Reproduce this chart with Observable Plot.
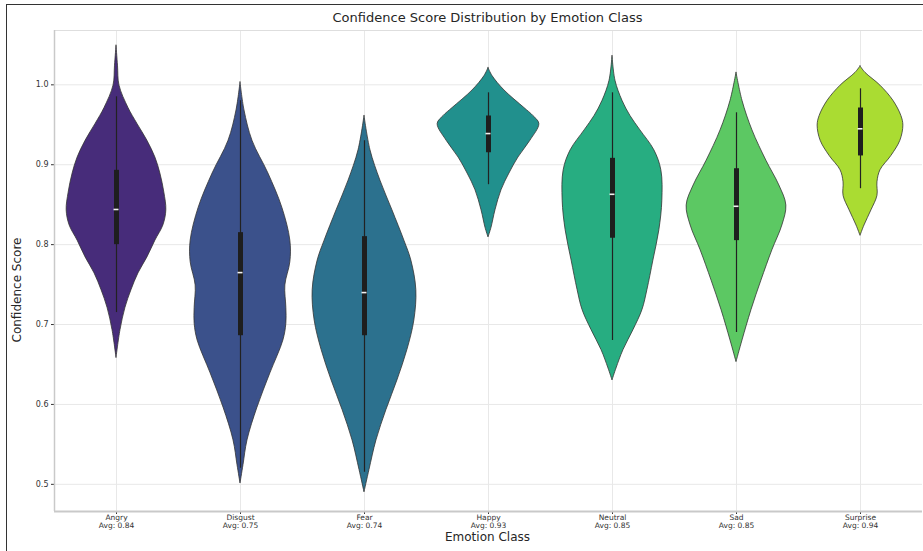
<!DOCTYPE html>
<html>
<head>
<meta charset="utf-8">
<script src="https://cdn.jsdelivr.net/npm/d3@7"></script>
<script src="https://cdn.jsdelivr.net/npm/@observablehq/plot@0.6"></script>
<style>
  html, body { margin: 0; padding: 0; background: #fff; overflow: hidden; }
  #fig { position: relative; width: 923px; height: 551px; font-family: "DejaVu Sans", sans-serif; color: #262626; background: #fff; }
  #edge { position: absolute; left: 6px; top: 4px; width: 1000px; height: 1000px; border-left: 1.5px solid #333; border-top: 1.5px solid #333; z-index: 5; pointer-events: none; }
  #title { position: absolute; left: 52px; width: 871px; top: 10px; text-align: center; font-size: 13px; }
  #ylabel { position: absolute; left: 17px; top: 290px; transform: translate(-50%, -50%) rotate(-90deg); font-size: 12px; white-space: nowrap; }
  #xlabel { position: absolute; left: 52px; width: 871px; top: 530px; text-align: center; font-size: 12px; }
  #chart { position: absolute; left: 0; top: 28px; }
</style>
</head>
<body>
<div id="fig">
  <div id="title">Confidence Score Distribution by Emotion Class</div>
  <div id="ylabel">Confidence Score</div>
  <div id="xlabel">Emotion Class</div>
  <div id="chart"></div>
  <div id="edge"></div>
</div>
<script>
// Emotion classes and their palette (viridis, 7 steps)
const emotions = ["Angry", "Disgust", "Fear", "Happy", "Neutral", "Sad", "Surprise"];
const colors = ["#472c7a", "#3b518b", "#2c718e", "#21908d", "#27ad81", "#5cc863", "#aadc32"];
const averages = [0.84, 0.75, 0.74, 0.93, 0.85, 0.85, 0.94];

// Kernel density outline for each class: score grid and relative density
const angryScore   = [1.049, 1.024, 0.999, 0.971, 0.951, 0.930, 0.909, 0.889, 0.865, 0.843, 0.824, 0.805, 0.784, 0.764, 0.743, 0.721, 0.693, 0.658];
const angryDens    = [0, 0.03, 0.06, 0.24, 0.42, 0.62, 0.78, 0.88, 0.96, 1.00, 0.94, 0.78, 0.62, 0.44, 0.30, 0.18, 0.08, 0];
const disgustScore = [1.003, 0.968, 0.930, 0.889, 0.846, 0.805, 0.778, 0.749, 0.721, 0.701, 0.680, 0.639, 0.596, 0.555, 0.524, 0.501];
const disgustDens  = [0, 0.08, 0.24, 0.56, 0.84, 1.00, 1.00, 0.90, 0.92, 0.92, 0.86, 0.60, 0.34, 0.14, 0.06, 0];
const fearScore    = [0.961, 0.918, 0.880, 0.843, 0.805, 0.780, 0.743, 0.705, 0.668, 0.630, 0.593, 0.555, 0.518, 0.490];
const fearDens     = [0, 0.12, 0.32, 0.56, 0.80, 0.94, 1.04, 1.00, 0.86, 0.66, 0.44, 0.24, 0.10, 0];
const happyScore   = [1.021, 1.011, 0.993, 0.971, 0.961, 0.951, 0.930, 0.909, 0.889, 0.868, 0.843, 0.821, 0.809];
const happyDens    = [0, 0.08, 0.32, 0.72, 0.90, 1.02, 0.84, 0.60, 0.42, 0.26, 0.14, 0.06, 0];
const neutralScore = [1.036, 1.005, 0.980, 0.961, 0.943, 0.918, 0.893, 0.855, 0.818, 0.780, 0.743, 0.718, 0.693, 0.668, 0.645, 0.630];
const neutralDens  = [0, 0.06, 0.20, 0.36, 0.56, 0.84, 0.98, 1.00, 0.94, 0.82, 0.70, 0.60, 0.42, 0.22, 0.08, 0];
const sadScore     = [1.015, 0.980, 0.943, 0.905, 0.874, 0.849, 0.824, 0.793, 0.755, 0.718, 0.680, 0.653];
const sadDens      = [0, 0.12, 0.32, 0.60, 0.86, 1.00, 0.92, 0.72, 0.50, 0.30, 0.12, 0];
const surpriseScore = [1.023, 1.015, 0.999, 0.980, 0.961, 0.949, 0.930, 0.911, 0.893, 0.878, 0.861, 0.843, 0.824, 0.811];
const surpriseDens  = [0, 0.10, 0.40, 0.66, 0.82, 0.86, 0.80, 0.62, 0.40, 0.34, 0.34, 0.22, 0.08, 0];

// Inner box summary per class
const whiskerLow  = [0.715, 0.520, 0.515, 0.875, 0.680, 0.690, 0.870];
const quartile1   = [0.800, 0.686, 0.686, 0.915, 0.808, 0.805, 0.911];
const medians     = [0.844, 0.765, 0.740, 0.939, 0.863, 0.848, 0.945];
const quartile3   = [0.893, 0.815, 0.810, 0.961, 0.908, 0.895, 0.971];
const whiskerHigh = [0.985, 0.980, 0.930, 0.990, 0.990, 0.965, 0.995];

// Axis ticks
const yTicks = [0.5, 0.6, 0.7, 0.8, 0.9, 1.0];

const profiles = [
  [angryScore, angryDens], [disgustScore, disgustDens], [fearScore, fearDens],
  [happyScore, happyDens], [neutralScore, neutralDens], [sadScore, sadDens],
  [surpriseScore, surpriseDens]
];

const violinRows = profiles.flatMap(([s, d], i) =>
  s.map((score, j) => ({emotion: emotions[i], score, density: d[j]})));

const boxRows = emotions.map((emotion, i) => ({
  emotion, lo: whiskerLow[i], q1: quartile1[i], median: medians[i],
  q3: quartile3[i], hi: whiskerHigh[i], avg: averages[i]
}));

const yDomain = [0.466, 1.068];
const xHalf = 1.244;        // half band width, in density units
const gridColor = "#e8e8e8";
const spineColor = "#c9c9c9";

const chart = Plot.plot({
  width: 923,
  height: 523,
  marginTop: 2,
  marginBottom: 40,
  marginLeft: 52,
  marginRight: 0,
  style: {fontFamily: "DejaVu Sans, sans-serif", fontSize: "8px", color: "#333", background: "transparent"},
  fx: {domain: emotions, padding: 0, label: null, axis: "bottom", tickSize: 3, tickFormat: () => ""},
  x: {domain: [-xHalf, xHalf], axis: null},
  y: {domain: yDomain, ticks: yTicks, tickFormat: ".1f", tickSize: 3, tickPadding: 3, label: null},
  color: {domain: emotions, range: colors},
  marks: [
    Plot.ruleY(yTicks, {stroke: gridColor, strokeWidth: 1}),
    Plot.ruleX([0], {stroke: gridColor, strokeWidth: 1}),
    Plot.ruleY([yDomain[1]], {stroke: "#dedede", strokeWidth: 1}),
    Plot.ruleY([yDomain[0]], {stroke: spineColor, strokeWidth: 2}),
    Plot.ruleX([emotions[0]], {fx: d => d, x: () => -xHalf, stroke: spineColor, strokeWidth: 1.5}),
    Plot.areaX(violinRows, {
      fx: "emotion", y: "score",
      x1: d => -d.density, x2: "density",
      fill: "emotion", z: "emotion",
      stroke: "#333", strokeWidth: 0.8,
      curve: "catmull-rom"
    }),
    Plot.ruleX(boxRows, {fx: "emotion", x: () => 0, y1: "lo", y2: "hi", stroke: "#222", strokeWidth: 1.2}),
    Plot.ruleX(boxRows, {fx: "emotion", x: () => 0, y1: "q1", y2: "q3", stroke: "#1e1e1e", strokeWidth: 5}),
    Plot.ruleY(boxRows, {fx: "emotion", y: "median", x1: -0.05, x2: 0.05, stroke: "#f2f2f2", strokeWidth: 1.6}),
    // class name with its average score, stacked under each violin
    Plot.text(boxRows, {fx: "emotion", frameAnchor: "bottom", dy: 8, text: "emotion", fill: "#333", fontSize: 7.5}),
    Plot.text(boxRows, {fx: "emotion", frameAnchor: "bottom", dy: 16, text: d => `Avg: ${d.avg.toFixed(2)}`, fill: "#333", fontSize: 7.5})
  ]
});

document.getElementById("chart").appendChild(chart);
</script>
</body>
</html>
